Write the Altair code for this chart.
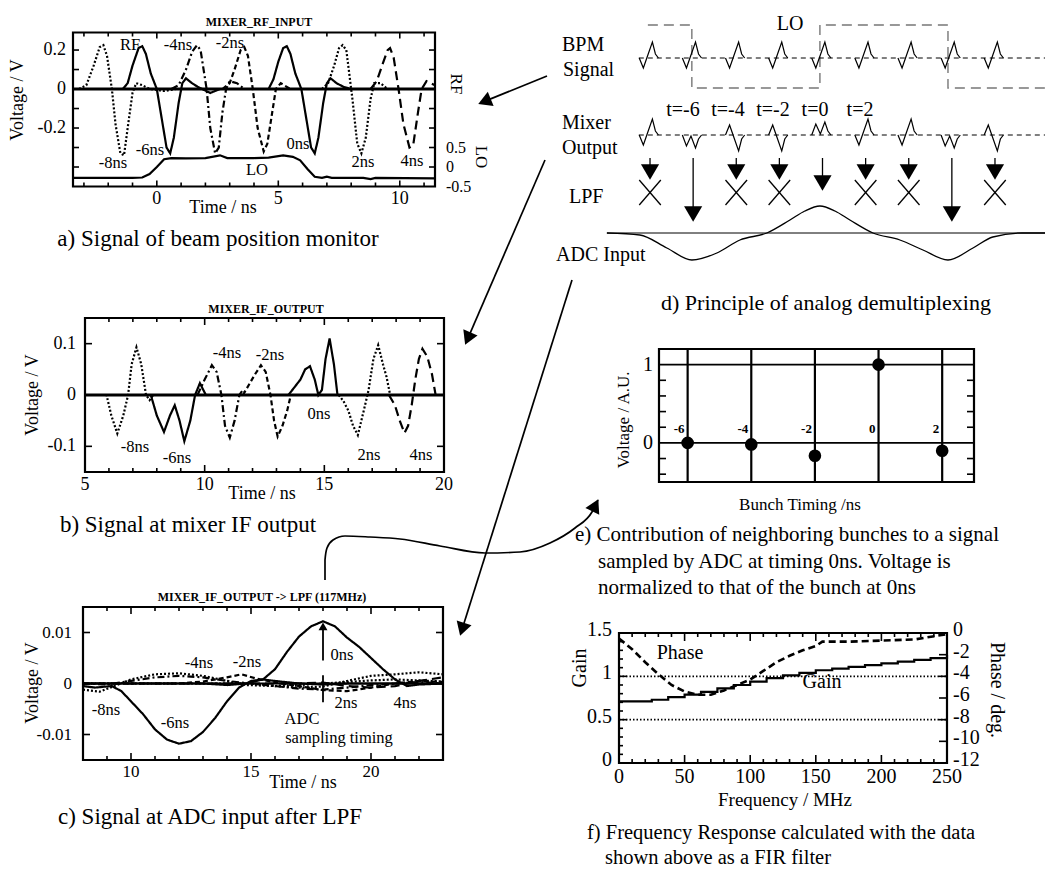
import math
import altair as alt
import pandas as pd

FONT = "Liberation Serif"
W, H = 1045, 870
ONE = pd.DataFrame({"k": [0]})

# ---------------- (a) MIXER_RF_INPUT : time (ns) / voltage (V) ----------------
RF_NAMES = ["-8ns", "-6ns", "-4ns", "-2ns", "0ns", "2ns", "4ns"]
RF_STYLES = ["dot", "solid", "dashdot", "dash", "solid", "dot", "ldash"]
RF_T = [
    [-3.2, -2.9, -2.6, -2.35, -2.2, -2.05, -1.85, -1.7, -1.5, -1.35, -1.2, -1.0, -0.85, -0.6, -0.3, 0.3, 0.8],
    [-1.4, -1.2, -1.0, -0.75, -0.6, -0.45, -0.25, 0.0, 0.2, 0.4, 0.55, 0.7, 0.9, 1.05, 1.2, 1.45, 1.7, 2.2, 2.6],
    [0.6, 0.9, 1.2, 1.45, 1.65, 1.8, 1.95, 2.05, 2.2, 2.4, 2.55, 2.7, 2.85, 3.0, 3.3, 3.6],
    [2.7, 3.0, 3.2, 3.45, 3.6, 3.75, 3.95, 4.15, 4.4, 4.55, 4.75, 4.9, 5.1, 5.5],
    [4.6, 4.8, 5.0, 5.2, 5.35, 5.5, 5.7, 5.95, 6.15, 6.35, 6.5, 6.65, 6.85, 7.0, 7.15, 7.4, 7.7, 8.0],
    [6.8, 7.05, 7.3, 7.5, 7.65, 7.8, 7.95, 8.05, 8.25, 8.42, 8.6, 8.8, 8.95, 9.2, 9.5],
    [8.8, 9.05, 9.3, 9.5, 9.6, 9.75, 9.95, 10.15, 10.4, 10.55, 10.75, 10.9, 11.1, 11.45],
]
RF_V = [
    [0, 0.02, 0.12, 0.215, 0.225, 0.17, 0.0, -0.18, -0.33, -0.34, -0.2, -0.02, 0.03, 0.02, 0.0, -0.01, 0.0],
    [0, 0.03, 0.12, 0.21, 0.22, 0.18, 0.08, 0.0, -0.15, -0.3, -0.33, -0.25, -0.07, 0.03, 0.055, 0.03, 0.01, -0.02, 0.0],
    [0, 0.02, 0.1, 0.19, 0.225, 0.2, 0.08, 0.0, -0.2, -0.33, -0.3, -0.12, 0.0, 0.04, 0.03, 0.0],
    [0, 0.03, 0.1, 0.2, 0.215, 0.17, 0.0, -0.2, -0.32, -0.28, -0.12, 0.0, 0.03, 0.0],
    [0, 0.05, 0.14, 0.21, 0.22, 0.18, 0.08, 0.0, -0.15, -0.3, -0.33, -0.25, -0.07, 0.03, 0.055, 0.03, 0.01, 0.0],
    [0, 0.03, 0.12, 0.21, 0.225, 0.2, 0.05, -0.05, -0.28, -0.33, -0.25, -0.05, 0.03, 0.03, 0.0],
    [0, 0.04, 0.13, 0.2, 0.21, 0.16, 0.0, -0.18, -0.3, -0.29, -0.12, 0.0, 0.04, 0.02],
]
LO_T = [-3.45, -1.0, -0.6, -0.3, 0.0, 0.3, 0.6, 1.2, 2.0, 2.6, 2.9, 4.0, 4.6, 5.2, 5.6, 5.9, 6.2, 6.5, 6.8, 7.0,
        7.2, 8.5, 8.8, 9.0, 11.45]
LO_V = [-0.28, -0.28, -0.27, -0.18, 0.0, 0.2, 0.23, 0.22, 0.23, 0.3, 0.23, 0.23, 0.24, 0.3, 0.26, 0.17, -0.05,
        -0.25, -0.28, -0.25, -0.28, -0.28, -0.31, -0.28, -0.29]

# ---------------- (b) MIXER_IF_OUTPUT ----------------
IF_NAMES = RF_NAMES
IF_STYLES = ["dot", "solid", "dashdot", "dash", "solid", "dot", "ldash"]
IF_T = [
    [5.7, 5.9, 6.1, 6.35, 6.6, 6.8, 6.95, 7.15, 7.35, 7.55, 7.7, 7.85],
    [7.6, 7.75, 8.0, 8.3, 8.55, 8.75, 8.95, 9.15, 9.4, 9.6, 9.8, 10.05, 10.3],
    [9.7, 10.0, 10.3, 10.5, 10.7, 10.85, 11.05, 11.25, 11.45, 11.6, 11.8],
    [11.6, 11.85, 12.1, 12.35, 12.55, 12.75, 12.9, 13.05, 13.25, 13.45, 13.6],
    [13.5, 13.75, 14.0, 14.2, 14.4, 14.6, 14.75, 14.9, 15.05, 15.22, 15.4, 15.55, 15.7],
    [15.6, 15.8, 16.0, 16.2, 16.4, 16.65, 16.85, 17.05, 17.25, 17.45, 17.6, 17.75, 17.9],
    [17.7, 17.95, 18.15, 18.35, 18.5, 18.65, 18.8, 18.95, 19.1, 19.3, 19.5, 19.65, 20.0],
]
IF_V = [
    [0, 0, -0.04, -0.075, -0.04, 0, 0.06, 0.093, 0.06, 0, -0.01, 0],
    [0, 0, -0.04, -0.072, -0.04, -0.02, -0.05, -0.09, -0.05, 0.0, 0.023, 0, 0],
    [0, 0.03, 0.058, 0.045, 0, -0.06, -0.083, -0.05, 0, 0.01, 0],
    [0, 0.02, 0.04, 0.058, 0.045, 0, -0.05, -0.081, -0.06, -0.03, 0],
    [0, 0.015, 0.03, 0.05, 0.056, 0.03, 0, 0.01, 0.07, 0.11, 0.06, 0, 0],
    [0, -0.012, -0.03, -0.06, -0.078, -0.03, 0.01, 0.07, 0.097, 0.06, 0.035, 0, 0],
    [0, -0.02, -0.05, -0.074, -0.06, -0.02, 0.03, 0.07, 0.09, 0.075, 0.04, 0, 0],
]

# ---------------- (c) MIXER_IF_OUTPUT -> LPF (117MHz) ----------------
LPF_NAMES = RF_NAMES
LPF_STYLES = ["dot", "solid", "dashdot", "dash", "solid", "dot", "ldash"]
LPF_T = [
    [8, 8.7, 9.3, 10, 11, 12, 13, 14, 14.8, 16, 17, 18, 19, 20, 21, 22, 23],
    [8, 8.5, 9.2, 9.6, 10.0, 10.5, 11.0, 11.5, 12.0, 12.5, 13.0, 13.5, 14.0, 14.5, 15.0, 15.5, 16, 17, 18, 19, 20, 23],
    [8, 9, 10, 11, 12, 13, 14, 15, 16, 17, 18, 19, 20, 21, 22, 23],
    [8, 12, 13, 14, 14.6, 15.2, 16, 17, 18, 19, 20, 21, 22, 23],
    [8, 13, 14, 14.8, 15.5, 16.0, 16.5, 17.0, 17.5, 18.0, 18.5, 19.0, 19.5, 20.0, 20.5, 21.0, 21.5, 22.0, 23],
    [8, 15, 16, 17, 18, 19, 20, 21, 22, 23],
    [8, 17, 18, 19, 20, 21, 22, 23],
]
LPF_V = [
    [-0.0012, -0.0016, -0.0005, 0.0008, 0.0018, 0.002, 0.0015, 0.0005, -0.0003, -0.0005, -0.0003, 0, 0.0003, 0.0006,
     0.0008, 0.0006, 0.0004],
    [-0.0005, -0.0008, -0.0005, -0.0015, -0.0035, -0.006, -0.009, -0.011, -0.0118, -0.0113, -0.0095, -0.0068, -0.0035,
     -0.0008, 0.0005, 0.0008, 0.0005, 0.0, -0.0002, 0, 0, 0],
    [0, -0.0002, 0.0005, 0.0012, 0.0015, 0.0012, 0.0005, 0, -0.0005, -0.001, -0.0012, -0.0008, -0.0003, 0, 0.0003, 0],
    [0, 0, 0.0004, 0.0012, 0.0018, 0.001, 0.0002, -0.0005, -0.0013, -0.0015, -0.0008, 0.0, 0.0005, 0.0003],
    [0, 0, -0.0003, 0, 0.0008, 0.0028, 0.0062, 0.0092, 0.0112, 0.0122, 0.0112, 0.009, 0.0072, 0.005, 0.0028, 0.0008,
     -0.0005, -0.0002, 0],
    [0, 0, -0.0005, -0.0008, -0.0006, 0.0005, 0.0015, 0.0018, 0.0022, 0.0018],
    [0, 0, 0.0002, -0.0005, -0.0008, -0.0005, 0.0005, 0.0012],
]
ADC_TIME = 18

# ---------------- (d) principle of analog demultiplexing ----------------
D_BUNCH = [-8, -6, -4, -2, 0, 2, 4, 6, 8]
D_MIX = ["normal", "W", "inv", "inv", "M", "normal", "normal", "W", "inv"]
D_ARROW = ["blocked", "pass", "blocked", "blocked", "center", "blocked", "blocked", "pass", "blocked"]
PULSE_DX = [-0.38, -0.19, 0.02, 0.23, 0.37, 0.51]
PULSE_DY = {
    "normal": [0, 10, -3, -16, -4, 0],
    "inv": [0, -10, 3, 16, 4, 0],
    "W": [0, 11, 1, 13, 4, 0],
    "M": [0, -11, -1, -13, -4, 0],
}
D_LO_T = [-7.98, -5.94, -5.94, 0, 0, 5.94, 5.94, 10.44]
D_LO_LEVEL = [1, 1, -1, -1, 1, 1, -1, -1]
D_ADC_T = [-9.88, -8.35, -7.10, -5.94, -4.78, -3.71, -2.46, -1.39, -0.70, 0, 0.70, 1.39, 2.46, 3.71, 4.78, 5.94,
           7.10, 8.02, 9.37, 10.44]
D_ADC_V = [0, -2, -15, -27, -20, -7, 0, 13, 22, 27, 22, 13, 0, -7, -17, -27, -15, -4, 0, 0]
D_T_LABELS = ["t=-6", "t=-4", "t=-2", "t=0", "t=2"]

# ---------------- (e) contribution of neighbouring bunches ----------------
E_T = [-6, -4, -2, 0, 2]
E_V = [0.0, -0.02, -0.165, 1.0, -0.1]

# ---------------- (f) frequency response ----------------
F_FREQ_G = [0, 12.5, 25, 37.5, 50, 62.5, 75, 87.5, 100, 112.5, 125, 137.5, 150, 162.5, 175, 187.5, 200, 212.5, 225,
            237.5, 250]
F_GAIN = [0.71, 0.71, 0.73, 0.76, 0.79, 0.82, 0.86, 0.90, 0.94, 0.98, 1.01, 1.04, 1.07, 1.09, 1.11, 1.13, 1.15, 1.17,
          1.19, 1.21, 1.25]
F_FREQ_P = [0, 10, 20, 30, 40, 50, 60, 70, 80, 90, 100, 110, 120, 130, 140, 150, 155, 175, 200, 225, 250]
F_PHASE = [-0.5, -1.5, -2.7, -3.8, -4.8, -5.4, -5.7, -5.7, -5.3, -4.8, -4.3, -3.5, -2.7, -2.1, -1.6, -1.2, -0.8,
           -0.8, -0.7, -0.6, -0.1]

# ---------------- helpers ----------------
def sc(dom, rng):
    return alt.Scale(domain=list(dom), range=list(rng), nice=False, zero=False)


def X(f, s):
    return alt.X(f, type="quantitative", scale=s, axis=None)


def Y(f, s):
    return alt.Y(f, type="quantitative", scale=s, axis=None)


DASH_NAMES = ["solid", "dot", "dashdot", "dash", "ldash"]
DASH_ARR = [[1, 0], [2, 2], [7, 3, 2, 3], [5, 3], [9, 5]]


def dash_enc():
    return alt.StrokeDash("d:N", scale=alt.Scale(domain=DASH_NAMES, range=DASH_ARR), legend=None)


def series_df(names, styles, ts, vs):
    rows = []
    for n, s, tt, vv in zip(names, styles, ts, vs):
        for i, (t, v) in enumerate(zip(tt, vv)):
            rows.append({"s": n, "d": s, "t": t, "v": v, "i": i})
    return pd.DataFrame(rows)


def curves(df, xs, ys, w=2.2):
    return alt.Chart(df).mark_line(color="black", strokeWidth=w).encode(
        x=X("t", xs), y=Y("v", ys), detail="s:N", strokeDash=dash_enc(), order="i:Q")


def rules_x(vals, xs, y1, y2, w=1.3, dash=None):
    kw = {"color": "black", "strokeWidth": w}
    if dash:
        kw["strokeDash"] = dash
    return alt.Chart(pd.DataFrame({"v": vals})).mark_rule(**kw).encode(
        x=X("v", xs), y=alt.value(y1), y2=alt.value(y2))


def rules_y(vals, ys, x1, x2, w=1.3, dash=None):
    kw = {"color": "black", "strokeWidth": w}
    if dash:
        kw["strokeDash"] = dash
    return alt.Chart(pd.DataFrame({"v": vals})).mark_rule(**kw).encode(
        y=Y("v", ys), x=alt.value(x1), x2=alt.value(x2))


def box(l, t, r, b, w=2.2):
    return alt.Chart(ONE).mark_rect(fill="transparent", stroke="black", strokeWidth=w).encode(
        x=alt.value(l), x2=alt.value(r), y=alt.value(t), y2=alt.value(b))


def ticks(xs, ys, l, t, r, b, xmaj, xmin, ymaj, ymin, L=7, S=4, yright=True):
    out = [box(l, t, r, b)]
    for vals, n in ((xmaj, L), (xmin, S)):
        if vals:
            out += [rules_x(vals, xs, b, b - n, w=1.6), rules_x(vals, xs, t, t + n, w=1.6)]
    for vals, n in ((ymaj, L), (ymin, S)):
        if vals:
            out.append(rules_y(vals, ys, l, l + n, w=1.6))
            if yright:
                out.append(rules_y(vals, ys, r, r - n, w=1.6))
    return out


def T(x, y, s, size=16, angle=0, align="center", weight="normal", baseline="middle"):
    return alt.Chart(ONE).mark_text(text=s, font=FONT, fontSize=size, angle=angle, align=align,
                                    baseline=baseline, fontWeight=weight, color="black").encode(
        x=alt.value(x), y=alt.value(y))


def xlabels(vals, labs, xs, y, size, weight="normal"):
    df = pd.DataFrame({"v": vals, "l": labs})
    return alt.Chart(df).mark_text(font=FONT, fontSize=size, baseline="middle", align="center",
                                   fontWeight=weight, color="black").encode(
        x=X("v", xs), y=alt.value(y), text="l:N")


def ylabels(vals, labs, ys, x, size, align="right", dy=0):
    df = pd.DataFrame({"v": vals, "l": labs})
    return alt.Chart(df).mark_text(font=FONT, fontSize=size, baseline="middle", align=align, dy=dy,
                                   color="black").encode(
        y=Y("v", ys), x=alt.value(x), text="l:N")


def fmt(v):
    return ("%g" % v)


CAP = 23     # captions of the left column
LAB = 16.5   # in-panel bunch labels
TIT = 12     # bold plot titles
AXT = 18     # axis titles / tick labels (left column)

layers = []

# ================= panel (a) =================
AX = sc([-3.45, 11.45], [73, 435])
AY = sc([-0.5, 0.29], [186.5, 32.5])
ALO = sc([-0.5, 3.45], [186.5, 32.5])
layers += ticks(AX, AY, 73, 32.5, 435, 186.5, [0, 5, 10],
                [v for v in range(-3, 12) if v not in (0, 5, 10)],
                [0.2, 0.1, 0, -0.1, -0.2, -0.3, -0.4], [], L=6, S=4)
layers.append(rules_y([0], AY, 73, 435, w=3))
layers.append(curves(series_df(RF_NAMES, RF_STYLES, RF_T, RF_V), AX, AY))
lo_df = pd.DataFrame({"t": LO_T, "v": LO_V, "i": range(len(LO_T))})
layers.append(alt.Chart(lo_df).mark_line(color="black", strokeWidth=2.2).encode(
    x=X("t", AX), y=Y("v", ALO), order="i:Q"))
layers.append(xlabels([0, 5, 10], ["0", "5", "10"], AX, 199, AXT))
layers.append(ylabels([0.2, 0, -0.2], ["0.2", "0", "-0.2"], AY, 66, AXT))
layers.append(ylabels([0.5, 0, -0.5], ["0.5", "0", "-0.5"], ALO, 446, 16, align="left"))
layers += [
    T(259, 22, "MIXER_RF_INPUT", TIT, weight="bold"),
    T(18, 100, "Voltage / V", AXT, angle=270),
    T(223, 208, "Time / ns", AXT),
    T(456, 84, "RF", 17, angle=90),
    T(481, 157, "LO", 17, angle=90),
    T(218, 239, "a) Signal of beam position monitor", CAP),
    T(130, 45, "RF", LAB), T(178, 45, "-4ns", LAB), T(230, 43, "-2ns", LAB),
    T(150, 150, "-6ns", LAB), T(113, 163, "-8ns", LAB), T(298, 144, "0ns", LAB),
    T(257, 170, "LO", LAB), T(363, 162, "2ns", LAB), T(412, 161, "4ns", LAB),
]

# ================= panel (b) =================
BX = sc([5, 20], [85, 444])
BY = sc([-0.15, 0.15], [472, 318])
layers += ticks(BX, BY, 85, 318, 444, 472, [5, 10, 15, 20],
                [v for v in range(6, 20) if v not in (10, 15)],
                [0.1, 0, -0.1], [], L=7, S=4)
layers.append(rules_y([0], BY, 85, 444, w=3))
layers.append(curves(series_df(IF_NAMES, IF_STYLES, IF_T, IF_V), BX, BY))
layers.append(xlabels([5, 10, 15, 20], ["5", "10", "15", "20"], BX, 485, AXT))
layers.append(ylabels([0.1, 0, -0.1], ["0.1", "0", "-0.1"], BY, 76, AXT))
layers += [
    T(266, 309, "MIXER_IF_OUTPUT", TIT, weight="bold"),
    T(33, 395, "Voltage / V", AXT, angle=270),
    T(262, 494, "Time / ns", AXT),
    T(188, 525, "b) Signal at mixer IF output", CAP),
    T(135, 447, "-8ns", LAB), T(177, 458, "-6ns", LAB), T(227, 353, "-4ns", LAB),
    T(270, 355, "-2ns", LAB), T(319, 414, "0ns", LAB), T(369, 455, "2ns", LAB), T(421, 455, "4ns", LAB),
]

# ================= panel (c) =================
CX_ = sc([8, 23], [83, 443])
CY_ = sc([-0.015, 0.015], [760, 607])
layers += ticks(CX_, CY_, 83, 607, 443, 760, [10, 15, 20],
                [v for v in range(8, 24) if v not in (10, 15, 20)],
                [0.01, 0, -0.01], [], L=7, S=4)
layers.append(rules_y([0], CY_, 83, 443, w=1.8))
layers.append(curves(series_df(LPF_NAMES, LPF_STYLES, LPF_T, LPF_V), CX_, CY_, w=2.2))
adc_df = pd.DataFrame({"t": [ADC_TIME, ADC_TIME], "a": [0.0045, -0.0037], "b": [0.0114, 0.0016]})
layers.append(alt.Chart(adc_df).mark_rule(color="black", strokeWidth=1.8).encode(
    x=X("t", CX_), y=Y("a", CY_), y2="b"))
layers.append(alt.Chart(pd.DataFrame({"t": [ADC_TIME], "v": [0.0112]})).mark_point(
    shape="triangle-up", filled=True, color="black", size=80, opacity=1).encode(x=X("t", CX_), y=Y("v", CY_)))
layers.append(xlabels([10, 15, 20], ["10", "15", "20"], CX_, 772, 17))
layers.append(ylabels([0.01, 0, -0.01], ["0.01", "0", "-0.01"], CY_, 72, 17))
layers += [
    T(262, 597, "MIXER_IF_OUTPUT -> LPF (117MHz)", TIT, weight="bold"),
    T(33, 683, "Voltage / V", AXT, angle=270),
    T(303, 783, "Time / ns", AXT),
    T(210, 817, "c) Signal at ADC input after LPF", CAP),
    T(199, 663, "-4ns", LAB), T(247, 662, "-2ns", LAB), T(342, 655, "0ns", LAB),
    T(106, 710, "-8ns", LAB), T(175, 723, "-6ns", LAB), T(346, 703, "2ns", LAB), T(405, 703, "4ns", LAB),
    T(302, 719, "ADC", LAB), T(339, 738, "sampling timing", LAB),
]

# ================= panel (d) =================
DX = sc([-10.2, 10.44], [600, 1045])
DY = sc([0, 300], [0, 300])
lo_d = pd.DataFrame({"t": D_LO_T, "y": [56.5 - 31.5 * lv for lv in D_LO_LEVEL], "i": range(len(D_LO_T))})
layers.append(alt.Chart(lo_d).mark_line(color="#777777", strokeWidth=1.4, strokeDash=[10, 6]).encode(
    x=X("t", DX), y=Y("y", DY), order="i:Q"))
base_df = pd.DataFrame({"t": [-8.4, -8.4], "t2": [10.44, 10.44], "y": [58, 135]})
layers.append(alt.Chart(base_df).mark_rule(color="black", strokeWidth=1, strokeDash=[5, 4]).encode(
    x=X("t", DX), x2="t2", y=Y("y", DY)))
prow = []
for k, (b, mk) in enumerate(zip(D_BUNCH, D_MIX)):
    for i, dx in enumerate(PULSE_DX):
        prow.append({"g": "bpm%d" % k, "t": b + dx, "y": 58 + PULSE_DY["normal"][i], "i": i})
        prow.append({"g": "mix%d" % k, "t": b + dx, "y": 135 + PULSE_DY[mk][i], "i": i})
layers.append(alt.Chart(pd.DataFrame(prow)).mark_line(color="black", strokeWidth=1.2).encode(
    x=X("t", DX), y=Y("y", DY), detail="g:N", order="i:Q"))
SHAFT_END = {"blocked": 166, "pass": 208, "center": 177}
HEAD_Y = {"blocked": 172, "pass": 214, "center": 183}
shaft = pd.DataFrame({"t": [b + 0.12 for b in D_BUNCH], "y1": [158] * len(D_BUNCH),
                      "y2": [SHAFT_END[a] for a in D_ARROW], "hy": [HEAD_Y[a] for a in D_ARROW]})
layers.append(alt.Chart(shaft).mark_rule(color="black", strokeWidth=1.3).encode(
    x=X("t", DX), y=Y("y1", DY), y2="y2"))
layers.append(alt.Chart(shaft).mark_point(shape="triangle-down", filled=True, color="black", size=330,
                                          opacity=1).encode(x=X("t", DX), y=Y("hy", DY)))
xr = []
for b, a in zip(D_BUNCH, D_ARROW):
    if a == "blocked":
        xr.append({"t": b + 0.12 - 0.5, "t2": b + 0.12 + 0.5, "y": 180, "y2": 205})
        xr.append({"t": b + 0.12 + 0.5, "t2": b + 0.12 - 0.5, "y": 180, "y2": 205})
layers.append(alt.Chart(pd.DataFrame(xr)).mark_rule(color="black", strokeWidth=1.3).encode(
    x=X("t", DX), x2="t2", y=Y("y", DY), y2="y2"))
layers.append(alt.Chart(pd.DataFrame({"t": [-9.88], "t2": [10.44], "y": [233]})).mark_rule(
    color="black", strokeWidth=1).encode(x=X("t", DX), x2="t2", y=Y("y", DY)))
adc_d = pd.DataFrame({"t": D_ADC_T, "y": [233 - v for v in D_ADC_V]})
layers.append(alt.Chart(adc_d).mark_line(color="black", strokeWidth=1.3, interpolate="monotone").encode(
    x=X("t", DX), y=Y("y", DY)))
layers += [
    T(562, 45, "BPM", 20, align="left"), T(563, 70, "Signal", 20, align="left"),
    T(562, 123, "Mixer", 20, align="left"), T(562, 148, "Output", 20, align="left"),
    T(569, 197, "LPF", 20, align="left"), T(556, 255, "ADC Input", 20, align="left"),
    T(790, 24, "LO", 20),
    T(826, 303, "d) Principle of analog demultiplexing", 22),
]
for lab, cx in zip(D_T_LABELS, [683, 728, 773, 815, 860]):
    layers.append(T(cx, 110, lab, 20))

# ================= panel (e) =================
EX = sc([-6.9, 3], [659, 974])
EY = sc([-0.5, 1.2], [482, 349])
layers.append(box(659, 349, 974, 482))
layers.append(rules_y([-0.4, -0.2, 0.2, 0.4, 0.6, 0.8], EY, 659, 666, w=1.6))
layers.append(rules_y([-0.4, -0.2, 0.2, 0.4, 0.6, 0.8], EY, 974, 967, w=1.6))
layers.append(rules_x(E_T, EX, 349, 482, w=2.2))
layers.append(rules_y([0, 1], EY, 659, 974, w=1.8))
layers.append(alt.Chart(pd.DataFrame({"t": E_T, "v": E_V})).mark_circle(color="black", size=160, opacity=1).encode(
    x=X("t", EX), y=Y("v", EY)))
elab = pd.DataFrame({"t": E_T, "l": [fmt(v) for v in E_T]})
layers.append(alt.Chart(elab).mark_text(font=FONT, fontSize=13, fontWeight="bold", align="right", dx=-3,
                                        baseline="middle", color="black").encode(
    x=X("t", EX), y=alt.value(429), text="l:N"))
layers.append(ylabels([1, 0], ["1", "0"], EY, 653, 20))
layers += [
    T(624, 420, "Voltage / A.U.", 17, angle=270),
    T(800, 505, "Bunch Timing /ns", 17),
    T(575, 535, "e) Contribution of neighboring bunches to a signal", 21, align="left"),
    T(598, 562, "sampled by ADC at timing 0ns. Voltage is", 21, align="left"),
    T(598, 588, "normalized to that of the bunch at 0ns", 21, align="left"),
]

# ================= panel (f) =================
FX = sc([0, 250], [619, 947])
FG = sc([0, 1.5], [763, 633])
FP = sc([-12, 0], [763, 633])
layers.append(box(619, 633, 947, 763))
fx_maj = [0, 50, 100, 150, 200, 250]
fx_min = [v for v in range(10, 250, 10) if v % 50]
layers += [rules_x(fx_maj, FX, 763, 755, w=1.6), rules_x(fx_maj, FX, 633, 641, w=1.6),
           rules_x(fx_min, FX, 763, 759, w=1.6), rules_x(fx_min, FX, 633, 637, w=1.6)]
layers += [rules_y([0, 0.5, 1, 1.5], FG, 619, 627, w=1.6),
           rules_y([round(0.1 * k, 1) for k in range(1, 15) if k % 5], FG, 619, 623, w=1.6),
           rules_y(list(range(-12, 1, 2)), FP, 947, 939, w=1.6)]
layers.append(rules_y([1, 0.5], FG, 619, 947, w=1.8, dash=[1.5, 2]))
layers.append(alt.Chart(pd.DataFrame({"f": F_FREQ_G, "g": F_GAIN})).mark_line(
    color="black", strokeWidth=2.2, interpolate="step-after").encode(x=X("f", FX), y=Y("g", FG)))
layers.append(alt.Chart(pd.DataFrame({"f": F_FREQ_P, "p": F_PHASE})).mark_line(
    color="black", strokeWidth=2.6, strokeDash=[7, 4]).encode(x=X("f", FX), y=Y("p", FP)))
layers.append(xlabels(fx_maj, [fmt(v) for v in fx_maj], FX, 777, 20))
layers.append(ylabels([1.5, 1, 0.5, 0], ["1.5", "1", "0.5", "0"], FG, 612, 20, dy=-3))
layers.append(ylabels(list(range(0, -13, -2)), [fmt(v) for v in range(0, -13, -2)], FP, 953, 20,
                      align="left", dy=-3))
layers += [
    T(680, 653, "Phase", 20), T(822, 682, "Gain", 20),
    T(580, 668, "Gain", 20, angle=270),
    T(997, 690, "Phase / deg.", 20, angle=90),
    T(785, 800, "Frequency / MHz", 19),
    T(587, 833, "f) Frequency Response calculated with the data", 20.5, align="left"),
    T(605, 858, "shown above as a FIR filter", 20.5, align="left"),
]

# ================= connecting arrows (page coordinates) =================
PX = sc([0, W], [0, W])
PY = sc([0, H], [0, H])
CONN = [(547, 76, 478, 104), (545, 160, 465, 345), (572, 280, 460, 636)]
CURVE_X = [325, 325, 327, 333, 345, 370, 400, 440, 485, 520, 550, 575, 592, 598]
CURVE_Y = [580, 560, 548, 540, 536, 537, 539, 546, 553, 552, 543, 528, 512, 500]

seg, heads = [], []
for (x1, y1, x2, y2) in CONN:
    L = math.hypot(x2 - x1, y2 - y1)
    ux, uy = (x2 - x1) / L, (y2 - y1) / L
    hx, hy = x2 - 7 * ux, y2 - 7 * uy
    seg.append({"x": x1, "y": y1, "x2": hx, "y2": hy})
    heads.append({"x": hx, "y": hy, "a": math.degrees(math.atan2(ux, -uy)) % 360})
dxc, dyc = CURVE_X[-1] - CURVE_X[-2], CURVE_Y[-1] - CURVE_Y[-2]
Lc = math.hypot(dxc, dyc)
heads.append({"x": CURVE_X[-1] - 6 * dxc / Lc, "y": CURVE_Y[-1] - 6 * dyc / Lc,
              "a": math.degrees(math.atan2(dxc / Lc, -dyc / Lc)) % 360})
layers.append(alt.Chart(pd.DataFrame(seg)).mark_rule(color="black", strokeWidth=1.7).encode(
    x=X("x", PX), x2="x2", y=Y("y", PY), y2="y2"))
layers.append(alt.Chart(pd.DataFrame({"x": CURVE_X, "y": CURVE_Y, "i": range(len(CURVE_X))})).mark_line(
    color="black", strokeWidth=1.7, interpolate="monotone").encode(x=X("x", PX), y=Y("y", PY), order="i:Q"))
layers.append(alt.Chart(pd.DataFrame(heads)).mark_point(shape="triangle-up", filled=True, color="black",
                                                        size=240, opacity=1).encode(
    x=X("x", PX), y=Y("y", PY), angle=alt.Angle("a:Q", scale=None)))

chart = alt.layer(*layers).resolve_scale(x="independent", y="independent").properties(
    width=W, height=H, padding=0, autosize=alt.AutoSizeParams(type="none"), background="white"
).configure_view(strokeWidth=0)

chart.save("out.html", embed_options={"renderer": "svg", "actions": False})
